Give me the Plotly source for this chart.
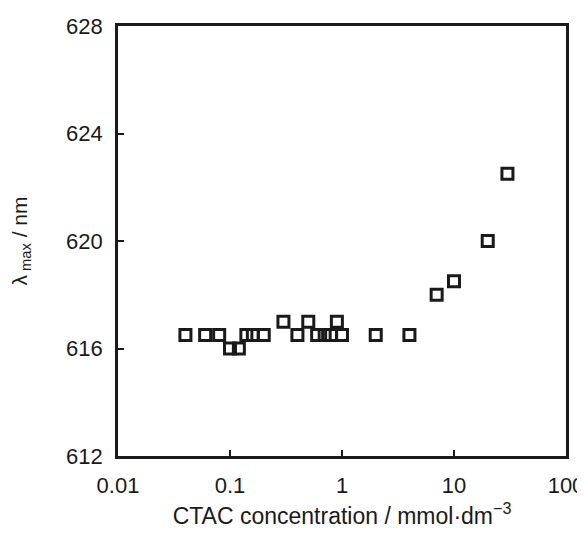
import plotly.graph_objects as go

conc = [0.04, 0.06, 0.08, 0.1, 0.12, 0.14, 0.16, 0.2, 0.3, 0.4, 0.5, 0.6, 0.7, 0.8, 0.9, 1.0, 2.0, 4.0, 7.0, 10.0, 20.0, 30.0]
lam = [616.5, 616.5, 616.5, 616.0, 616.0, 616.5, 616.5, 616.5, 617.0, 616.5, 617.0, 616.5, 616.5, 616.5, 617.0, 616.5, 616.5, 616.5, 618.0, 618.5, 620.0, 622.5]

x_ticks = [0.01, 0.1, 1, 10, 100]
x_tick_text = ["0.01", "0.1", "1", "10", "100"]
y_ticks = [612, 616, 620, 624, 628]

font = "Liberation Sans, Arial, sans-serif"

fig = go.Figure(go.Scatter(
    x=conc, y=lam, mode="markers",
    marker=dict(symbol="square-open", size=11, color="#1a1a1a", line=dict(width=3, color="#1a1a1a")),
    cliponaxis=False,
))

fig.update_layout(
    width=577, height=522,
    margin=dict(l=110, r=19, t=18, b=74),
    paper_bgcolor="white", plot_bgcolor="white",
    showlegend=False,
    font=dict(family=font, size=22, color="#1a1a1a"),
)
fig.update_xaxes(
    type="log", range=[-2, 2], automargin=False,
    tickvals=x_ticks, ticktext=x_tick_text,
    ticks="inside", ticklen=6, tickwidth=1.5, tickcolor="#1a1a1a",
    showline=True, linewidth=2.6, linecolor="#1a1a1a", mirror=True,
    showgrid=False, zeroline=False,
    ticklabelstandoff=8,
    tickfont=dict(size=22),
    title=dict(text="CTAC concentration / mmol·dm<sup>−3</sup>", font=dict(size=23), standoff=11),
)
fig.update_yaxes(
    range=[612, 628], tickvals=y_ticks, automargin=False,
    ticks="inside", ticklen=6, tickwidth=1.5, tickcolor="#1a1a1a",
    showline=True, linewidth=2.6, linecolor="#1a1a1a", mirror=True,
    showgrid=False, zeroline=False,
    ticklabelstandoff=8,
    tickfont=dict(size=22),
    title=dict(text="λ<sub> max</sub> / nm", font=dict(size=21), standoff=40),
)

fig.write_html("out.html")
